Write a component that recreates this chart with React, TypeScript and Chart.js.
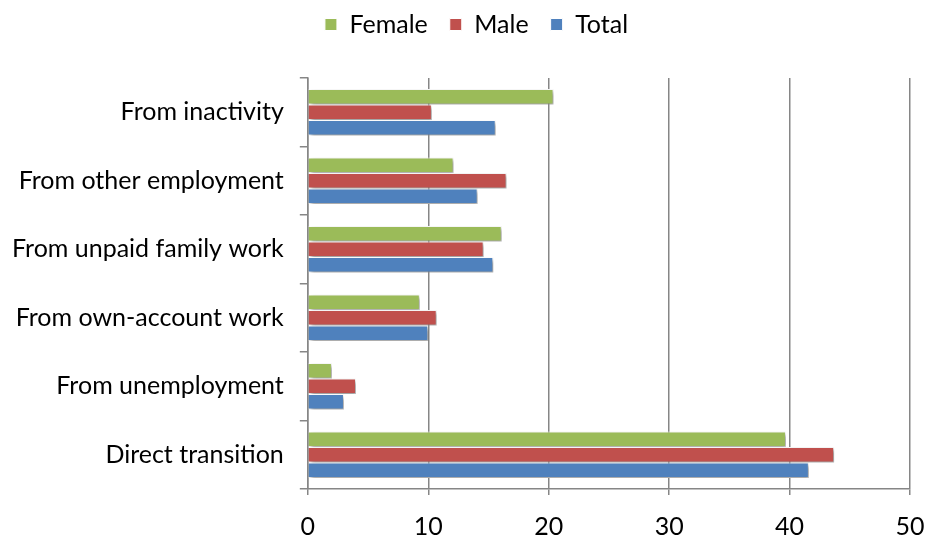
import React, { useEffect, useRef } from "react";
import { Chart, registerables } from "chart.js";

Chart.register(...registerables);

const categories = [
  "From inactivity",
  "From other employment",
  "From unpaid family work",
  "From own-account work",
  "From unemployment",
  "Direct transition",
];
const female = [20.4, 12.1, 16.1, 9.3, 2.0, 39.7];
const male = [10.3, 16.5, 14.6, 10.7, 4.0, 43.7];
const total = [15.6, 14.1, 15.4, 10.0, 3.0, 41.6];
const xTicks = [0, 10, 20, 30, 40, 50];

const FONT = "Lato, Carlito, Calibri, sans-serif";
const FONT_SIZE = 25;

const shadowPlugin = {
  id: "barShadow",
  beforeDatasetsDraw(chart: any) {
    const ctx = chart.ctx;
    ctx.save();
    ctx.shadowColor = "rgba(0,0,0,0.4)";
    ctx.shadowBlur = 4;
    ctx.shadowOffsetX = 2.5;
    ctx.shadowOffsetY = 2.5;
  },
  afterDatasetsDraw(chart: any) {
    chart.ctx.restore();
  },
};

const legendTweak = {
  id: "legendTweak",
  beforeInit(chart: any) {
    const legend = chart.legend;
    if (!legend) return;
    const origFit = legend.fit;
    legend.fit = function () {
      origFit.call(this);
      this.height += 31;
    };
  },
  afterLayout(chart: any) {
    const legend = chart.legend;
    if (!legend) return;
    legend.left += 15;
    legend.right += 15;
  },
};

export default function App() {
  const ref = useRef<HTMLCanvasElement>(null);
  useEffect(() => {
    if (!ref.current) return;
    const chart = new Chart(ref.current, {
      type: "bar",
      data: {
        labels: categories,
        datasets: [
          { label: "Female", data: female, backgroundColor: "#9BBB59", borderColor: "#FFFFFF", borderWidth: 1 },
          { label: "Male", data: male, backgroundColor: "#C0504D", borderColor: "#FFFFFF", borderWidth: 1 },
          { label: "Total", data: total, backgroundColor: "#4F81BD", borderColor: "#FFFFFF", borderWidth: 1 },
        ],
      },
      plugins: [shadowPlugin, legendTweak],
      options: {
        indexAxis: "y",
        animation: false,
        responsive: false,
        maintainAspectRatio: false,
        layout: { padding: { left: -4, right: 0, top: -10, bottom: -21 } },
        datasets: { bar: { categoryPercentage: 0.68, barPercentage: 1 } },
        plugins: {
          legend: {
            position: "top",
            labels: {
              font: { family: FONT, size: FONT_SIZE },
              color: "#000",
              boxWidth: 12,
              boxHeight: 12,
              padding: 22,
            },
          },
          tooltip: { enabled: false },
        },
        scales: {
          x: {
            min: 0,
            max: 50,
            afterBuildTicks: (axis: any) => {
              axis.ticks = xTicks.map((v) => ({ value: v }));
            },
            afterFit: (axis: any) => {
              axis.paddingRight = 17;
            },
            grid: { color: "#868686", lineWidth: 1.5, tickLength: 6, drawTicks: true },
            border: { display: true, color: "#868686", width: 1.5 },
            ticks: { font: { family: FONT, size: FONT_SIZE }, color: "#000", padding: 17 },
          },
          y: {
            offset: true,
            grid: { offset: true, drawOnChartArea: false, color: "#868686", lineWidth: 1.5, tickLength: 8 },
            border: { display: true, color: "#868686", width: 1.5 },
            ticks: { font: { family: FONT, size: FONT_SIZE }, color: "#000", padding: 16 },
          },
        },
      },
    });
    return () => chart.destroy();
  }, []);
  return (
    <div style={{ position: "fixed", left: 0, top: 0, width: 927, height: 538, background: "#fff" }}>
      <canvas ref={ref} width={927} height={538} style={{ width: 927, height: 538 }} />
    </div>
  );
}
